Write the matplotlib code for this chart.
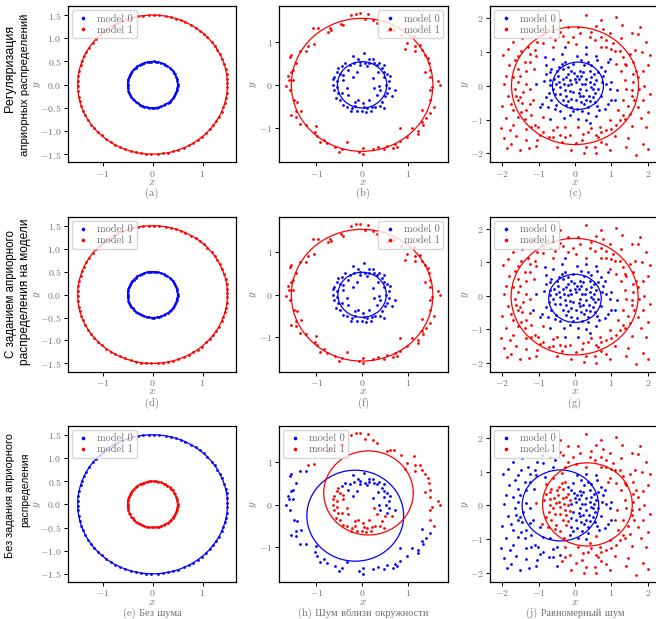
import numpy as np
import matplotlib.pyplot as plt
from matplotlib.patches import Circle

plt.rcParams['font.family'] = ['cmr10', 'Liberation Serif']
plt.rcParams['mathtext.fontset'] = 'cm'
plt.rcParams['axes.formatter.use_mathtext'] = True

W, H = 656, 619
GRAY = '#707070'

# column 1: points on two circles, no noise (angles in degrees)
clean_inner_deg = [2, 8, 13, 19, 26, 30, 37, 43, 47, 54, 60, 64, 71, 77, 82, 87, 94, 99, 104,
                   111, 116, 121, 128, 133, 139, 144, 150, 156, 161, 167, 172, 178, 184, 188,
                   195, 201, 206, 212, 217, 223, 229, 234, 240, 245, 251, 257, 262, 268, 273,
                   279, 285, 290, 296, 301, 307, 313, 318, 324, 330, 335, 341, 346, 352, 357]
clean_outer_deg = [1, 5, 9, 13, 17, 22, 26, 30, 34, 38, 43, 47, 51, 55, 59, 64, 68, 72, 76, 80,
                   85, 89, 93, 97, 101, 106, 110, 114, 118, 122, 127, 131, 135, 139, 143, 148,
                   152, 156, 160, 164, 169, 173, 177, 181, 185, 190, 194, 198, 202, 206, 211,
                   215, 219, 223, 227, 232, 236, 240, 244, 248, 253, 257, 261, 265, 269, 274,
                   278, 282, 286, 290, 295, 299, 303, 307, 311, 316, 320, 324, 328, 332, 337,
                   341, 345, 349, 353, 358]
clean_inner_r = 0.5
clean_outer_r = 1.5

# column 2: noise near the circles
near_inner = [(-0.21, 0.68), (-0.10, 0.60), (0.14, 0.60), (0.23, 0.60), (0.07, 0.51), (-0.04, 0.54),
              (-0.17, 0.52), (-0.26, 0.47), (-0.37, 0.51), (-0.45, 0.43), (-0.52, 0.39), (-0.56, 0.31),
              (-0.48, 0.26), (-0.61, 0.19), (-0.63, 0.13), (-0.56, 0.08), (-0.63, 0.00), (-0.54, -0.05),
              (-0.62, -0.12), (-0.52, -0.19), (-0.58, -0.31), (-0.48, -0.35), (-0.41, -0.47), (-0.34, -0.51),
              (-0.23, -0.54), (-0.15, -0.39), (-0.15, -0.49), (-0.12, -0.62), (-0.01, -0.62), (0.09, -0.64),
              (0.10, -0.54), (0.21, -0.52), (0.29, -0.51), (0.40, -0.49), (0.48, -0.54), (0.43, -0.39),
              (0.51, -0.27), (0.54, -0.19), (0.65, -0.26), (0.73, -0.13), (0.58, -0.08), (0.53, 0.00),
              (0.58, 0.08), (0.47, 0.18), (0.54, 0.26), (0.47, 0.31), (0.43, 0.39), (0.32, 0.47),
              (0.25, 0.51), (0.48, 0.47), (0.36, -0.02), (0.25, -0.08), (0.32, -0.23), (0.40, -0.12),
              (-0.41, 0.12), (-0.34, -0.08), (-0.41, 0.23), (-0.12, 0.31), (-0.19, 0.19), (0.16, -0.35),
              (0.03, -0.43), (-0.08, -0.35), (-0.30, -0.23), (0.23, 0.16), (0.04, 0.74), (0.10, 0.45),
              (-0.30, 0.35), (0.35, 0.30), (-0.45, -0.20), (0.20, -0.62), (-0.25, -0.62), (0.60, 0.20),
              (0.05, -0.52), (0.15, 0.52), (-0.05, 0.47), (0.38, 0.52)]
near_outer = [(-0.24, 1.62), (-0.13, 1.66), (-0.04, 1.67), (0.12, 1.65), (0.07, 1.53), (0.23, 1.50),
              (0.32, 1.44), (-0.46, 1.42), (-0.42, 1.39), (-0.70, 1.32), (-0.74, 1.24), (-0.69, 1.27),
              (-0.97, 1.32), (-1.08, 1.32), (0.62, 1.27), (0.98, 0.97), (1.16, 0.91), (1.15, 0.79),
              (0.95, 0.83), (-1.19, 0.91), (-1.05, 0.95), (-1.36, 0.78), (-1.23, 0.78), (-1.55, 0.70),
              (-1.57, 0.66), (-1.44, 0.51), (-1.51, 0.35), (-1.55, 0.31), (-1.62, 0.21), (-1.60, 0.12),
              (-1.51, 0.12), (-1.67, -0.02), (-1.58, -0.12), (-1.49, -0.35), (-1.42, -0.39), (-1.55, -0.70),
              (-1.45, -0.74), (-1.44, -0.62), (-1.33, -0.60), (-1.36, -0.91), (-1.22, -0.93), (-1.01, -0.97),
              (-1.03, -1.11), (-0.98, -1.19), (-0.92, -1.34), (-0.84, -1.28), (-0.76, -1.36), (-0.59, -1.44),
              (-0.51, -1.56), (-0.45, -1.49), (-0.34, -1.34), (-0.06, -1.56), (0.01, -1.61), (0.01, -1.48),
              (0.23, -1.50), (0.34, -1.46), (0.47, -1.50), (0.54, -1.42), (0.67, -1.47), (0.76, -1.44),
              (0.82, -1.32), (0.73, -1.38), (0.84, -1.01), (0.98, -1.21), (1.09, -1.01), (1.22, -1.07),
              (1.23, -1.14), (1.31, -0.86), (1.33, -0.93), (1.31, -0.58), (1.41, -0.78), (1.49, -0.66),
              (1.57, -0.51), (1.49, -0.35), (1.48, -0.12), (1.53, -0.05), (1.66, 0.09), (1.70, -0.01),
              (1.49, 0.18), (1.49, 0.35), (1.38, 0.29), (1.46, 0.51), (1.44, 0.62), (1.38, 0.70),
              (1.31, 0.80), (1.26, 0.93), (1.13, 1.13), (0.69, 1.28), (0.54, 1.25), (0.85, 1.15)]

# column 3: uniform noise
unif_inner = [(0.06, 0.89), (0.31, 0.94), (0.58, 0.89), (-0.28, 0.70), (-0.65, 0.50), (-0.69, 0.40),
              (-0.44, 0.55), (-0.33, 0.50), (-0.19, 0.55), (-0.10, 0.45), (0.13, 0.43), (0.22, 0.40),
              (0.40, 0.45), (0.51, 0.35), (0.63, 0.40), (-0.47, 0.30), (-0.33, 0.21), (-0.24, 0.26),
              (-0.15, 0.16), (0.17, 0.30), (0.31, 0.21), (0.40, 0.11), (0.58, 0.16), (-0.69, 0.01),
              (-0.60, -0.09), (-0.51, 0.06), (-0.42, -0.04), (-0.28, -0.14), (-0.19, 0.01), (0.02, 0.11),
              (0.49, -0.09), (0.63, -0.09), (0.31, -0.14), (0.22, -0.29), (0.38, -0.29), (0.49, -0.33),
              (0.29, -0.43), (0.17, -0.48), (0.04, -0.43), (-0.10, -0.38), (-0.24, -0.29), (-0.33, -0.43),
              (-0.51, -0.58), (-0.74, -0.63), (-0.65, -0.43), (-0.15, -0.87), (0.08, -0.97), (0.58, -0.90),
              (0.81, -0.68), (1.00, -0.43), (1.09, -0.43), (0.95, -0.09), (1.00, 0.11), (1.15, -0.12),
              (0.77, 0.30), (0.81, 0.45), (-1.08, 0.06), (-0.79, -0.33), (0.40, -1.10), (0.17, 0.75),
              (-0.58, 0.21), (-0.42, -0.24), (-0.05, -0.19), (0.13, -0.09), (0.45, 0.26), (-0.24, -0.58),
              (0.36, -0.63), (0.06, -0.68), (-0.10, -0.63), (0.54, -0.48), (-0.69, 0.18), (-0.19, 0.35),
              (-0.01, 0.21), (0.25, 0.60), (-0.05, 0.65), (0.45, 0.62), (0.70, -0.30), (0.60, -0.60),
              (0.20, -0.75), (-0.40, -0.75), (-0.85, 0.15), (0.85, 0.05), (-0.10, 0.05), (0.10, 0.20),
              (0.28, 0.05), (-0.30, 0.05), (0.40, -0.45), (-0.15, -0.15), (0.70, 0.55), (-0.90, -0.55),
              (0.30, -1.00), (-0.60, 0.80), (0.90, 0.70), (-0.35, 0.95), (0.52, 0.05), (-0.55, -0.25),
              (0.12, -0.22), (-0.02, 0.38), (0.35, -0.80), (-0.80, 0.62), (0.66, -0.72), (-0.30, -0.95),
              (-0.50, 0.45), (0.05, 0.30), (0.35, 0.70), (-0.20, -0.45), (0.55, -0.20), (-0.70, -0.20),
              (0.25, -0.55), (-0.45, 0.10), (0.15, -0.30), (0.75, 0.10), (-0.05, -0.75), (0.45, -0.05),
              (-0.35, 0.65), (0.60, 0.75), (-0.80, 0.35), (0.90, -0.55), (-0.55, -0.70), (0.20, 0.05)]
unif_outer = [(0.29, 2.10), (1.13, 2.02), (-0.19, 1.75), (0.08, 1.75), (0.58, 1.78), (0.77, 1.68),
              (1.77, 1.75), (1.73, 1.53), (1.55, 1.55), (1.95, 1.29), (2.05, 0.92), (-1.97, 0.92),
              (-1.84, 1.09), (-1.70, 1.29), (-1.56, 0.89), (-1.47, 1.04), (-1.29, 1.14), (-1.24, 0.70),
              (-1.04, 1.29), (-0.88, 1.26), (-0.69, 1.43), (-0.56, 1.34), (-0.42, 1.58), (-0.33, 1.48),
              (-0.05, 1.43), (0.40, 1.43), (0.54, 1.34), (0.86, 1.14), (1.00, 1.09), (1.09, 1.04),
              (1.22, 1.04), (1.32, 0.86), (1.50, 0.94), (1.36, 0.65), (1.41, 0.60), (1.68, 0.45),
              (1.86, 0.43), (1.73, 0.26), (1.59, 0.11), (1.41, -0.09), (1.55, -0.14), (1.57, -0.29),
              (1.63, -0.43), (1.73, -0.63), (2.00, -0.78), (1.50, -0.83), (1.32, -0.87), (1.36, -0.97),
              (1.13, -1.17), (1.00, -1.27), (0.86, -1.32), (0.72, -1.37), (0.58, -1.46), (0.63, -1.53),
              (0.86, -1.73), (0.54, -1.81), (0.31, -1.81), (0.26, -1.99), (0.58, -2.00), (1.86, -1.71),
              (2.00, -1.88), (1.68, -2.05), (0.04, -1.69), (-0.15, -1.46), (-0.28, -1.51), (-0.42, -1.46),
              (-0.60, -1.51), (-0.71, -1.53), (-0.88, -1.37), (-1.01, -1.22), (-1.10, -1.17), (-1.20, -1.22),
              (-1.33, -1.27), (-1.04, -1.61), (-1.06, -1.79), (-1.33, -1.59), (-1.61, -1.49), (-1.79, -1.32),
              (-2.02, -1.25), (-1.95, -1.56), (-1.86, -1.84), (-1.76, -1.73), (-1.70, -1.17), (-1.56, -0.92),
              (-1.47, -0.78), (-1.33, -0.73), (-1.20, -0.87), (-1.56, -0.43), (-1.61, -0.29), (-1.50, -0.33),
              (-1.42, -0.19), (-1.65, -0.09), (-1.56, 0.11), (-1.70, 0.26), (-1.52, 0.30), (-1.35, 0.45),
              (-1.56, 0.50), (-1.38, 0.70), (-1.15, -0.43), (-1.24, -0.53), (-0.97, -0.63), (-0.88, -0.92),
              (-0.69, -0.97), (-0.49, -1.22), (-0.28, -1.22), (0.08, -1.22), (0.22, -1.42), (0.36, -1.37),
              (0.68, -1.22), (0.95, -1.02), (1.18, -0.73), (1.22, -1.02), (1.32, -0.43), (1.36, 0.16),
              (1.27, 0.45), (1.13, 0.65), (0.95, 0.80), (0.72, 1.14), (0.86, 1.34), (0.72, 1.43),
              (0.31, 1.14), (0.04, 1.24), (-0.28, 1.14), (-0.60, 1.14), (-0.83, 0.85), (-1.06, 0.89),
              (-1.24, 0.94), (-1.13, 0.50), (-1.33, 0.06), (-1.24, -0.09), (-1.70, -0.73), (-1.38, -0.97),
              (1.95, -1.22), (1.86, -0.43), (-1.90, 0.30), (-2.00, -0.60), (-1.80, 0.60), (1.90, 0.00),
              (2.00, 0.60), (-0.40, 1.95), (0.70, 1.95), (-1.20, 1.60), (1.30, 1.80), (-1.50, -1.90),
              (-0.50, -1.80), (0.95, -1.90), (1.45, -1.55), (-0.75, 1.65), (1.65, 1.05), (-1.85, -0.30),
              (0.20, -1.60), (-0.10, -1.90), (1.10, -1.50), (1.55, -1.20), (-1.45, 1.40), (0.45, 1.60),
              (1.25, 1.40), (-1.75, -0.55), (1.75, -0.10), (-0.95, -1.45), (0.95, 1.55), (-0.20, 1.30),
              (-1.65, 0.75), (-1.90, -0.95), (1.60, 0.70), (1.85, 1.00), (-0.90, 1.50), (0.15, 1.55),
              (1.40, -1.80), (-1.25, -1.85), (-0.35, -1.65), (0.70, -1.65), (1.80, -0.95), (-1.95, 0.05),
              (2.05, -0.25), (-1.10, 1.05), (1.05, 1.25), (-0.60, -1.30), (0.45, -1.25), (1.45, -0.60),
              (-1.45, -0.50), (1.60, 0.35)]

# fitted circles (cx, cy, r) for model 0 / model 1, panels in reading order
model0 = [(0, 0, 0.5), (0.0, 0.0, 0.54), (0.08, 0.0, 0.70),
          (0, 0, 0.5), (0.0, 0.0, 0.53), (0.0, -0.08, 0.72),
          (0, 0, 1.5), (-0.15, -0.26, 1.06), (-0.40, 0.0, 1.05)]
model1 = [(0, 0, 1.5), (0.0, 0.0, 1.55), (0.0, 0.0, 1.74),
          (0, 0, 1.5), (0.0, -0.01, 1.55), (-0.01, -0.03, 1.74),
          (0, 0, 0.5), (0.14, 0.27, 0.98), (0.34, 0.03, 1.23)]

captions = ['(a)', '(b)', '(c)', '(d)', '(f)', '(g)',
            '(e) Без шума', '(h) Шум вблизи окружности', '(j) Равномерный шум']
legend_loc = ['upper left', 'upper right', 'upper left',
              'upper left', 'upper right', 'upper left',
              'upper left', 'upper left', 'upper left']
row_labels = [('Регуляризация', 'априорных распределений'),
              ('С заданием априорного', 'распределения на модели'),
              ('Без задания априорного', 'распределения')]

# layout (pixels)
col_px = [(67.7, 236), (279, 447.5), (490, 660)]
row_px = [(6.3, 162.5), (217, 371.7), (426, 582.2)]
ylabel_gap = [25, 20, 19]
xlims = [(-1.70, 1.67), (-1.82, 1.87), (-2.33, 2.33)]
ylims = [(-1.68, 1.69), (-1.81, 1.83), (-2.27, 2.35)]
xticks = [[-1, 0, 1], [-1, 0, 1], [-2, -1, 0, 1, 2]]
yticks = [[-1.5, -1.0, -0.5, 0.0, 0.5, 1.0, 1.5], [-1, 0, 1], [-2, -1, 0, 1, 2]]
# row label lines: (x centre, y centre, length) in pixels
label_geom = [[(10.5, 68.7, 110), (25.5, 85, 143)],
              [(11, 294.5, 129), (25.5, 291.3, 146)],
              [(10.5, 495.7, 125), (25.5, 490, 53)]]


def polar(deg, r):
    a = np.radians(deg)
    return np.column_stack([r * np.cos(a), r * np.sin(a)])


pts = [np.vstack([polar(clean_inner_deg, clean_inner_r), polar(clean_outer_deg, clean_outer_r)]),
       np.array(near_inner + near_outer),
       np.array(unif_inner + unif_outer)]

fig = plt.figure(figsize=(W / 100, H / 100), dpi=100)

for k in range(9):
    r, c = divmod(k, 3)
    x0, x1 = col_px[c]
    t0, t1 = row_px[r]
    ax = fig.add_axes([x0 / W, 1 - t1 / H, (x1 - x0) / W, (t1 - t0) / H])
    p = pts[c]
    c0, c1 = model0[k], model1[k]
    # each point goes to the nearer fitted circle
    d0 = np.abs(np.hypot(p[:, 0] - c0[0], p[:, 1] - c0[1]) - c0[2])
    d1 = np.abs(np.hypot(p[:, 0] - c1[0], p[:, 1] - c1[1]) - c1[2])
    m = d0 <= d1
    ax.add_patch(Circle(c0[:2], c0[2], fill=False, color='blue', lw=0.9, zorder=1))
    ax.add_patch(Circle(c1[:2], c1[2], fill=False, color='red', lw=0.9, zorder=1))
    ax.plot(p[m, 0], p[m, 1], 'o', color='blue', ms=2.0, mew=0, label='model 0', zorder=2)
    ax.plot(p[~m, 0], p[~m, 1], 'o', color='red', ms=2.0, mew=0, label='model 1', zorder=2)
    ax.set_xlim(xlims[c])
    ax.set_ylim(ylims[c])
    ax.set_xticks(xticks[c])
    ax.set_yticks(yticks[c])
    ax.tick_params(labelsize=7, labelcolor=GRAY, length=3, width=0.7, pad=1.5)
    for s in ax.spines.values():
        s.set_linewidth(0.9)
    ax.set_xlabel('$x$', color=GRAY, fontsize=8, labelpad=-1)
    ax.set_ylabel('$y$', color=GRAY, fontsize=8)
    ax.yaxis.set_label_coords(-ylabel_gap[c] / (x1 - x0), 0.5)
    ax.legend(loc=legend_loc[k], fontsize=7.5, handlelength=1.5, handletextpad=0.6,
              labelspacing=0.15, borderpad=0.35, borderaxespad=0.4, markerscale=1.3,
              labelcolor=GRAY)
    ax.annotate(captions[k], xy=(0.5, 0), xycoords='axes fraction', xytext=(0, -22.5),
                textcoords='offset points', ha='center', va='center', color=GRAY, fontsize=7.5)

rend = fig.canvas.get_renderer()
for lines, geom in zip(row_labels, label_geom):
    for s, (xp, yp, length) in zip(lines, geom):
        t = fig.text(xp / W, 1 - yp / H, s, rotation=90, ha='center', va='center',
                     family='Liberation Sans', fontsize=10, color='black')
        h = t.get_window_extent(rend).height
        t.set_fontsize(min(max(10 * length / h, 7.5), 9.0))

fig.savefig('out.png', dpi=100)
